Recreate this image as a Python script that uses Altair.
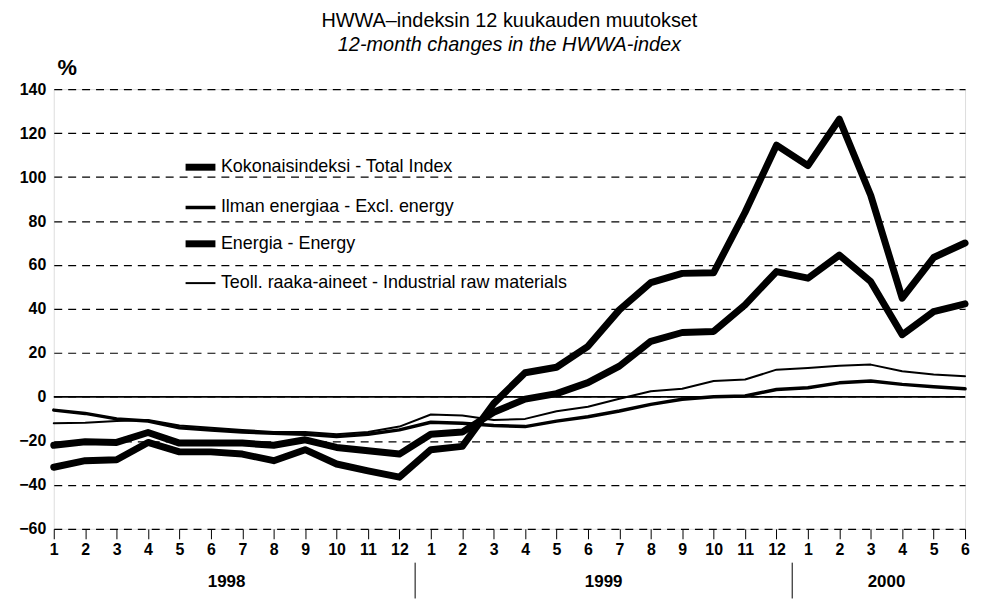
import altair as alt
import pandas as pd

# ---------------- data ----------------
months = list(range(30))  # 1998-1 ... 2000-6
years = ["1998"] * 12 + ["1999"] * 12 + ["2000"] * 6

series_names = [
    "Kokonaisindeksi - Total Index",
    "Ilman energiaa - Excl. energy",
    "Energia - Energy",
    "Teoll. raaka-aineet - Industrial raw materials",
]

total = [-22, -20.4, -20.7, -16.2, -21, -21, -21, -22, -19.5, -23, -24.5, -26,
         -17, -16, -7, -1, 1.5, 6.5, 14, 25.3, 29.3, 29.8, 41.9, 57,
         54, 64.5, 52.4, 28.3, 38.8, 42.3]
excl_energy = [-6, -7.5, -10, -11, -14, -15, -16, -16.5, -17, -18, -17, -15,
               -11.5, -12, -13, -13.5, -11, -9, -6.4, -3.4, -1.1, 0.1, 0.4, 3.4,
               4.2, 6.4, 7.2, 5.7, 4.6, 3.7]
energy = [-32, -29, -28.6, -20.7, -25, -25, -26, -29, -24, -30.5, -33.6, -36.5,
          -24, -22.5, -3, 11, 13.5, 23, 39.6, 52, 56.2, 56.5, 84, 114.5,
          105.2, 126.3, 91.6, 44.9, 63.4, 70]
industrial = [-12, -11.7, -11, -10.5, -13, -14, -15, -16, -16, -17, -16, -13.5,
              -8, -8.5, -10.5, -10, -6.5, -4.5, -0.8, 2.6, 3.7, 7.2, 7.9, 12.4,
              13.2, 14.2, 14.7, 11.7, 10.2, 9.4]

y_ticks = list(range(-60, 141, 20))

rows = []
for name, vals in zip(series_names, [total, excl_energy, energy, industrial]):
    for t, v in zip(months, vals):
        rows.append({"t": t, "v": v, "series": name})
df = pd.DataFrame(rows)

df_months = pd.DataFrame({"t": months, "year": years})
boundaries = [i - 0.5 for i in range(1, len(years)) if years[i] != years[i - 1]]
df_bounds = pd.DataFrame({"b": boundaries})
df_zero = pd.DataFrame({"z": [0]})

FONT = "Liberation Sans Narrow, Arial Narrow, Liberation Sans, Arial, sans-serif"

x_scale = alt.Scale(domain=[0, 29], nice=False, zero=False)
y_scale = alt.Scale(domain=[-60, 140], nice=False)

lines = alt.Chart(df).mark_line(
    color="black", strokeCap="round", strokeJoin="round"
).encode(
    x=alt.X(
        "t:Q",
        scale=x_scale,
        axis=alt.Axis(
            values=months,
            tickCount=30,
            labelExpr="(datum.value % 12) + 1",
            title=None,
            grid=False,
            domain=False,
            tickSize=10,
            tickColor="black",
            tickWidth=1,
            labelFont=FONT,
            labelFontSize=16,
            labelFontWeight="bold",
            labelColor="black",
            labelPadding=3,
            labelFlush=False,
            labelOverlap=False,
            labelSeparation=0,
            labelBound=False,
        ),
    ),
    y=alt.Y(
        "v:Q",
        scale=y_scale,
        axis=alt.Axis(
            values=y_ticks,
            title="%",
            titleAngle=0,
            titleX=13,
            titleY=-22,
            titleAlign="center",
            titleBaseline="middle",
            titleFont=FONT,
            titleFontSize=22,
            titleFontWeight="bold",
            titleColor="black",
            grid=True,
            gridDash=[8, 6],
            gridColor="black",
            gridWidth=1.2,
            gridOpacity=1,
            domain=False,
            ticks=False,
            labelPadding=8,
            labelFont=FONT,
            labelFontSize=16,
            labelFontWeight="bold",
            labelColor="black",
        ),
    ),
    strokeWidth=alt.StrokeWidth(
        "series:N",
        scale=alt.Scale(type="ordinal", domain=series_names, range=[7, 3.5, 7, 2]),
        legend=alt.Legend(
            title=None,
            orient="none",
            legendX=129,
            legendY=60,
            symbolType="stroke",
            symbolSize=900,
            symbolStrokeColor="black",
            labelFont=FONT,
            labelFontSize=18,
            labelColor="black",
            labelOffset=2,
            labelLimit=800,
            rowPadding=9,
            padding=0,
        ),
    ),
    detail="series:N",
)

zero = alt.Chart(df_zero).mark_rule(color="black", strokeWidth=1.6).encode(
    y=alt.Y("z:Q", scale=y_scale)
)

year_text = alt.Chart(df_months).transform_aggregate(
    c="mean(t)", groupby=["year"]
).mark_text(
    font=FONT, fontSize=17, fontWeight="bold", color="black", baseline="middle"
).encode(
    x=alt.X("c:Q", scale=x_scale),
    y=alt.value(495),
    text="year:N",
)

year_sep = alt.Chart(df_bounds).mark_rule(color="black", strokeWidth=1).encode(
    x=alt.X("b:Q", scale=x_scale),
    y=alt.value(476),
    y2=alt.value(512),
)

chart = alt.layer(zero, lines, year_text, year_sep).properties(
    width=916,
    height=442,
    padding={"left": 46, "top": 80, "right": 8, "bottom": 70},
    autosize=alt.AutoSizeParams(type="none"),
    title=alt.TitleParams(
        text="HWWA\u2013indeksin 12 kuukauden muutokset",
        subtitle="12-month changes in the HWWA-index",
        font=FONT,
        fontSize=20,
        fontWeight="normal",
        color="black",
        subtitleFont=FONT,
        subtitleFontSize=20,
        subtitleFontStyle="italic",
        subtitleColor="black",
        subtitlePadding=4,
        anchor="middle",
        offset=1,
    ),
).configure_view(
    stroke="black", strokeWidth=1.6
).configure_axisX(
    labelOverlap=False
).configure(background="white")

chart.save("out.html", embed_options={"renderer": "svg", "actions": False})
